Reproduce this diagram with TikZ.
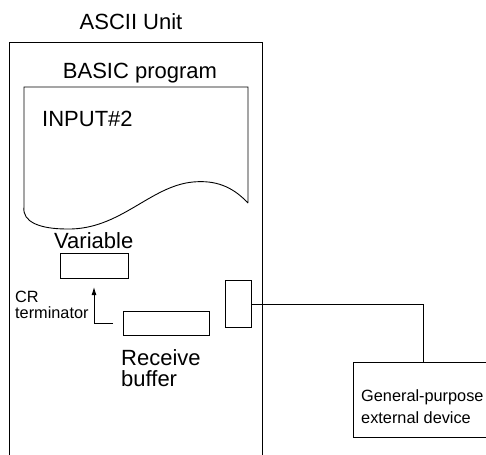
\documentclass[tikz,border=0pt]{standalone}
\usepackage{fontspec}
\setmainfont{Liberation Sans}
\usetikzlibrary{arrows.meta}
\begin{document}
\begin{tikzpicture}[x=1pt,y=-1pt,
  line/.style={line width=0.9pt},
  box/.style={draw,line width=0.9pt,inner sep=0pt,anchor=north west},
  big/.style={inner sep=0pt,font=\fontsize{22}{22}\selectfont},
  small/.style={inner sep=0pt,font=\fontsize{16.3}{15}\selectfont,align=left}]
\useasboundingbox (0,0) rectangle (486,454);
% outer ASCII Unit frame (bottom runs off the picture)
\draw[line] (9.5,460) -- (9.5,42) -- (262.5,42) -- (262.5,460);
\node[big,anchor=base] (title) at (131,30) {ASCII Unit};
% BASIC program document
\node[big,anchor=base] (basic) at (140,79) {BASIC program};
\draw[line] (248,203) -- (248,87) -- (24,87) -- (24,207)
  .. controls (22,222) and (40,229) .. (67,229)
  .. controls (120,230) and (150,186) .. (193,182)
  .. controls (215,180) and (232,186) .. (248,203);
\node[big,anchor=base west] (input) at (42,127) {INPUT\#2};
% Variable
\node[big,anchor=base west] (varlbl) at (54,248) {Variable};
\node[box,minimum width=68pt,minimum height=25pt] (var) at (60,253) {};
% Receive buffer
\node[box,minimum width=86pt,minimum height=24pt] (buf) at (123,311) {};
\node[big,anchor=base west] (buflbl1) at (121,365) {Receive};
\node[big,anchor=base west] (buflbl2) at (121,386) {buffer};
% CR terminator arrow
\coordinate (crstart) at (113,323);
\coordinate (crtip) at (94,287);
\draw[line,-{Latex[length=8pt,width=5pt]}] (crstart) -- (crstart -| crtip) -- (crtip);
\node[small,anchor=base west] (cr1) at (15,302) {CR};
\node[small,anchor=base west] (cr2) at (15,318) {terminator};
% port
\node[box,minimum width=26pt,minimum height=47pt] (port) at (225,280) {};
% external device (right side runs off the picture)
\node[box,minimum width=140pt,minimum height=75pt] (dev) at (353,362) {};
\node[small,anchor=base west] (dev1) at (361,401) {General-purpose};
\node[small,anchor=base west] (dev2) at (361,423) {external device};
\coordinate (devtop) at (423,362);
\draw[line] (port.east) -| (devtop);
\end{tikzpicture}
\end{document}
